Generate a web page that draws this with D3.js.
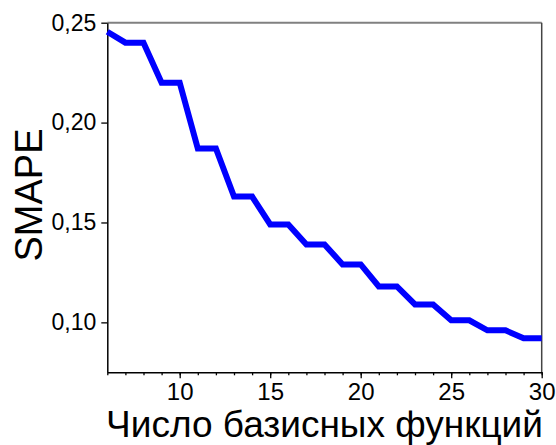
<!DOCTYPE html>
<html>
<head>
<meta charset="utf-8">
<script src="https://cdn.jsdelivr.net/npm/d3@7"></script>
<style>
  body { margin: 0; background: #fff; }
  svg text { font-family: "Liberation Sans", Arial, sans-serif; fill: #000; }
</style>
</head>
<body>
<div id="chart"></div>
<script>
// number of basis functions
var nBasis = [6, 7, 8, 9, 10, 11, 12, 13, 14, 15, 16, 17, 18, 19, 20, 21, 22, 23, 24, 25, 26, 27, 28, 29, 30];
// SMAPE values
var smape = [0.2455, 0.240, 0.240, 0.220, 0.220, 0.187, 0.187, 0.163, 0.163, 0.149, 0.149, 0.139, 0.139,
             0.129, 0.129, 0.118, 0.118, 0.109, 0.109, 0.101, 0.101, 0.096, 0.096, 0.092, 0.092];
var yTicks = [0.10, 0.15, 0.20, 0.25];
var xTicks = [10, 15, 20, 25, 30];
var xLabel = "Число базисных функций";
var yLabel = "SMAPE";

var W = 556, H = 445;
var margin = {top: 22.7, right: 14.3, bottom: 72.7, left: 107.3},
    width = W - margin.left - margin.right,
    height = H - margin.top - margin.bottom;

var svg = d3.select("#chart").append("svg")
    .attr("width", W)
    .attr("height", H);

var g = svg.append("g")
    .attr("transform", "translate(" + margin.left + "," + margin.top + ")");

var x = d3.scaleLinear().domain([6, 30]).range([0, width]);
var y = d3.scaleLinear().domain([0.075, 0.25]).range([height, 0]);

var fmt = function(d) { return d3.format(".2f")(d).replace(".", ","); };

// frame: top and right
g.append("line")
    .attr("x1", 0).attr("x2", width)
    .attr("y1", 0).attr("y2", 0)
    .attr("stroke", "#808080")
    .attr("stroke-width", 2);
g.append("line")
    .attr("x1", width).attr("x2", width)
    .attr("y1", 0).attr("y2", height)
    .attr("stroke", "#444")
    .attr("stroke-width", 1.5);

// minor x ticks
g.append("g")
    .attr("transform", "translate(0," + height + ")")
    .call(d3.axisBottom(x).tickValues(d3.range(6, 31)).tickSize(3).tickFormat(""))
    .call(function(a) { a.select(".domain").remove(); })
    .selectAll("line").attr("stroke", "#000").attr("stroke-width", 1.3);

// major x axis
var xAxis = g.append("g")
    .attr("transform", "translate(0," + height + ")")
    .call(d3.axisBottom(x).tickValues(xTicks).tickSize(6).tickSizeOuter(0).tickPadding(5));
xAxis.select(".domain").attr("stroke", "#000").attr("stroke-width", 1.5);
xAxis.selectAll("line").attr("stroke", "#000").attr("stroke-width", 1.3);
xAxis.selectAll("text").style("font-size", "24px").attr("fill", "#000");

// y axis
var yAxis = g.append("g")
    .call(d3.axisLeft(y).tickValues(yTicks).tickSize(6).tickSizeOuter(0).tickPadding(5).tickFormat(fmt));
yAxis.select(".domain").attr("stroke", "#000").attr("stroke-width", 1.5);
yAxis.selectAll("line").attr("stroke", "#000").attr("stroke-width", 1.3);
yAxis.selectAll("text").style("font-size", "23px").attr("fill", "#000");

// data line
var pts = nBasis.map(function(d, i) { return [d, smape[i]]; });
g.append("path")
    .datum(pts)
    .attr("fill", "none")
    .attr("stroke", "#0000ff")
    .attr("stroke-width", 6)
    .attr("stroke-linejoin", "miter")
    .attr("d", d3.line().x(function(d) { return x(d[0]); }).y(function(d) { return y(d[1]); }));

// axis labels
svg.append("text")
    .attr("x", margin.left + width / 2)
    .attr("y", 437)
    .attr("text-anchor", "middle")
    .style("font-size", "37px")
    .text(xLabel);

svg.append("text")
    .attr("transform", "translate(42,195) rotate(-90)")
    .attr("text-anchor", "middle")
    .style("font-size", "38px")
    .text(yLabel);
</script>
</body>
</html>
